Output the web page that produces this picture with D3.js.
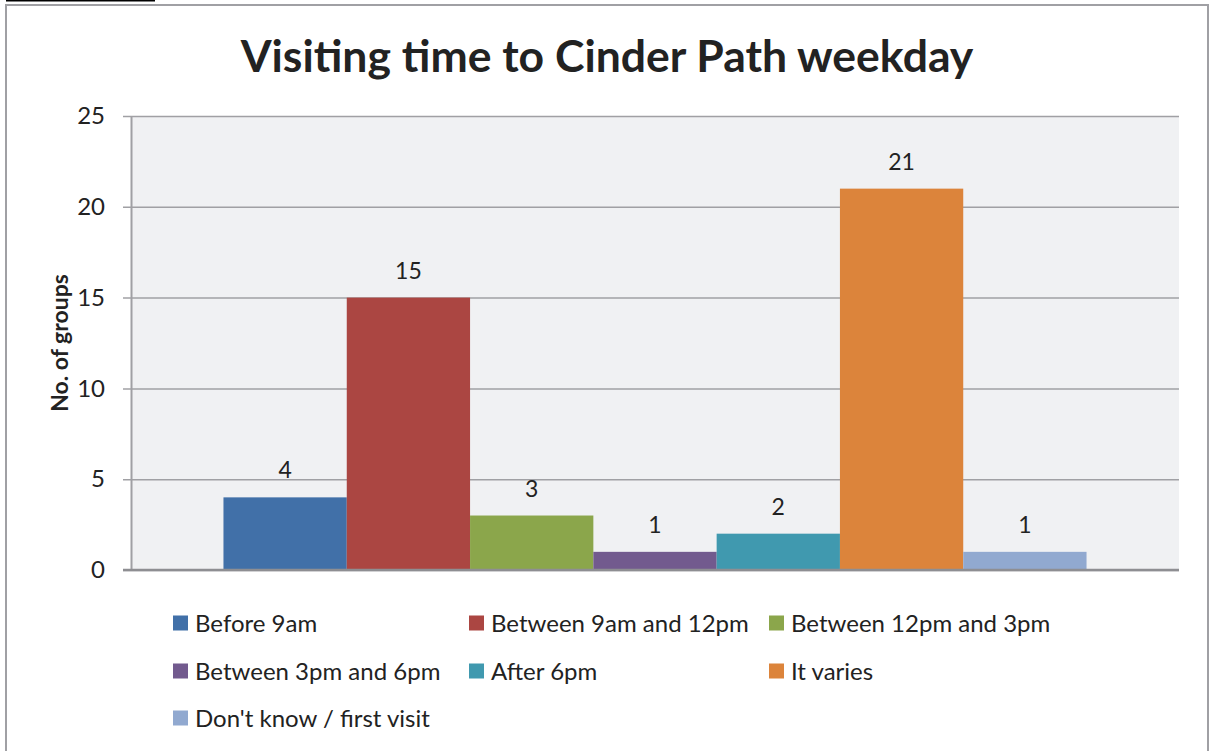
<!DOCTYPE html>
<html>
<head>
<meta charset="utf-8">
<title>Visiting time to Cinder Path weekday</title>
<script src="https://cdn.jsdelivr.net/npm/d3@7"></script>
<style>
  body { margin: 0; background: #fff; }
  text { font-family: Lato, "Open Sans", sans-serif; fill: #222; }
</style>
</head>
<body>
<svg id="chart" width="1210" height="751"></svg>
<script>
  // data
  var series = ["Before 9am", "Between 9am and 12pm", "Between 12pm and 3pm",
    "Between 3pm and 6pm", "After 6pm", "It varies", "Don't know / first visit"];
  var values = [4, 15, 3, 1, 2, 21, 1];
  var colors = ["#4170a8", "#ab4642", "#8ba64b", "#725a8e", "#4099af", "#dc843b", "#91a9d0"];
  var yTicks = [0, 5, 10, 15, 20, 25];

  (function() {
    var svg = d3.select("#chart");

    // plot box
    var pLeft = 131, pRight = 1179, pTop = 116, pBottom = 570;

    // outer frame + leftover underline at the very top
    svg.append("rect")
      .attr("x", 6).attr("y", 5).attr("width", 1202).attr("height", 760)
      .attr("fill", "#fff").attr("stroke", "#a0a0a4").attr("stroke-width", 2);
    svg.append("line")
      .attr("x1", 6).attr("x2", 155).attr("y1", 0.5).attr("y2", 0.5)
      .attr("stroke", "#000").attr("stroke-width", 2);

    var y = d3.scaleLinear().domain([0, 25]).range([pBottom, pTop]);
    var x = d3.scaleBand().domain(series).range([pLeft, pRight])
      .paddingInner(0).paddingOuter(0.75);

    svg.append("rect")
      .attr("x", pLeft).attr("y", pTop)
      .attr("width", pRight - pLeft).attr("height", pBottom - pTop)
      .attr("fill", "#f0f1f3");

    // gridlines + y axis
    var yAxis = d3.axisLeft(y).tickValues(yTicks)
      .tickSize(-(pRight - pLeft)).tickPadding(26).tickSizeOuter(0);
    var ga = svg.append("g").attr("transform", "translate(" + pLeft + ",0)").call(yAxis);
    ga.select(".domain").attr("stroke", "#a0a0a4").attr("stroke-width", 2);
    ga.selectAll(".tick line").attr("stroke", "#a0a0a4").attr("stroke-width", 1.5)
      .attr("x1", -8);
    ga.selectAll(".tick text")
      .style("font-family", "Lato, sans-serif").style("font-size", "24px")
      .attr("fill", "#222");

    // bars
    svg.selectAll(".bar").data(values).enter().append("rect")
      .attr("class", "bar")
      .attr("x", function(d, i) { return x(series[i]); })
      .attr("y", function(d) { return y(d); })
      .attr("width", x.bandwidth())
      .attr("height", function(d) { return y(0) - y(d); })
      .attr("fill", function(d, i) { return colors[i]; });

    // x baseline
    svg.append("line")
      .attr("x1", pLeft - 8).attr("x2", pRight).attr("y1", y(0)).attr("y2", y(0))
      .attr("stroke", "#8e8e92").attr("stroke-width", 2.5);

    // data labels
    svg.selectAll(".lbl").data(values).enter().append("text")
      .attr("x", function(d, i) { return x(series[i]) + x.bandwidth() / 2; })
      .attr("y", function(d) { return y(d) - 19; })
      .attr("text-anchor", "middle")
      .style("font-size", "23px")
      .text(function(d) { return d; });

    // title
    svg.append("text")
      .attr("x", 607).attr("y", 72)
      .attr("text-anchor", "middle")
      .style("font-size", "44.5px").style("font-weight", "bold")
      .text("Visiting time to Cinder Path weekday");

    // y axis title
    svg.append("text")
      .attr("transform", "translate(68,343) rotate(-90)")
      .attr("text-anchor", "middle")
      .style("font-size", "23px").style("font-weight", "bold")
      .text("No. of groups");

    // legend
    var legX = [173, 469, 769], legY = [623, 671, 718];
    var leg = svg.selectAll(".leg").data(series).enter().append("g")
      .attr("transform", function(d, i) {
        return "translate(" + legX[i % 3] + "," + legY[Math.floor(i / 3)] + ")";
      });
    leg.append("rect")
      .attr("x", 0).attr("y", -7.5).attr("width", 15).attr("height", 15)
      .attr("fill", function(d, i) { return colors[i]; });
    leg.append("text")
      .attr("x", 22).attr("y", 8.5)
      .style("font-size", "24px")
      .text(function(d) { return d; });
  })();
</script>
</body>
</html>
